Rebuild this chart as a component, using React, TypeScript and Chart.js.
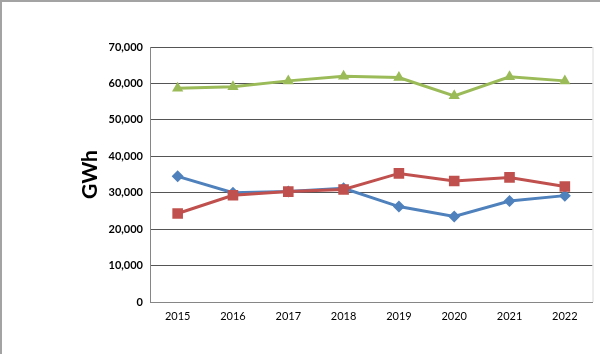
import React, { useEffect, useRef } from "react";
import { Chart, registerables } from "chart.js";

Chart.register(...registerables);

const years = ["2015", "2016", "2017", "2018", "2019", "2020", "2021", "2022"];
const blueSeries = [34500, 30000, 30300, 31200, 26200, 23500, 27700, 29200];
const redSeries = [24300, 29300, 30300, 30900, 35300, 33200, 34200, 31700];
const greenSeries = [58700, 59100, 60700, 62000, 61600, 56600, 61800, 60700];
const yTicks = [0, 10000, 20000, 30000, 40000, 50000, 60000, 70000];
const yTitle = "GWh";

const framePlugin = {
  id: "frame",
  afterDraw(chart: any) {
    const { ctx, chartArea } = chart;
    ctx.save();
    ctx.fillStyle = "#a3a3a3";
    ctx.fillRect(0, 0, 2, chart.height);
    ctx.fillRect(0, 0, chart.width, 2);
    ctx.strokeStyle = "#dcdcdc";
    ctx.lineWidth = 1;
    ctx.beginPath();
    ctx.moveTo(chartArea.right + 0.5, chartArea.top);
    ctx.lineTo(chartArea.right + 0.5, chartArea.bottom);
    ctx.stroke();
    ctx.restore();
  },
};

export default function App() {
  const ref = useRef<HTMLCanvasElement | null>(null);
  useEffect(() => {
    document.body.style.margin = "0";
    const canvas = ref.current!;
    const chart = new Chart(canvas, {
      type: "line",
      data: {
        labels: years,
        datasets: [
          {
            label: "Series 3",
            data: greenSeries,
            borderColor: "#9BBB59",
            backgroundColor: "#9BBB59",
            borderWidth: 3,
            pointStyle: "triangle",
            pointRadius: 6.5,
            pointBorderWidth: 0,
            tension: 0,
          },
          {
            label: "Series 2",
            data: redSeries,
            borderColor: "#C0504D",
            backgroundColor: "#C0504D",
            borderWidth: 3,
            pointStyle: "rect",
            pointRadius: 7.5,
            pointBorderWidth: 0,
            tension: 0,
          },
          {
            label: "Series 1",
            data: blueSeries,
            borderColor: "#4F81BD",
            backgroundColor: "#4F81BD",
            borderWidth: 3,
            pointStyle: "rectRot",
            pointRadius: 6,
            pointBorderWidth: 0,
            tension: 0,
          },
        ],
      },
      options: {
        animation: false,
        responsive: false,
        devicePixelRatio: 1,
        layout: { padding: { left: 0, right: 7, top: 47, bottom: 0 } },
        plugins: {
          legend: { display: false },
          tooltip: { enabled: false },
        },
        scales: {
          x: {
            offset: true,
            grid: { display: false, drawTicks: false },
            border: { display: true, color: "#868686", width: 1 },
            ticks: {
              color: "#000",
              padding: 8,
              font: { family: "Lato, 'Open Sans', sans-serif", size: 11 },
            },
            afterFit: (s: any) => {
              s.height = 52;
            },
          },
          y: {
            min: 0,
            max: 70000,
            afterBuildTicks: (s: any) => {
              s.ticks = yTicks.map((v) => ({ value: v }));
            },
            grid: { color: "#555555", lineWidth: 1, drawTicks: false },
            border: { display: true, color: "#868686", width: 1 },
            ticks: {
              color: "#000",
              padding: 7,
              font: { family: "Lato, 'Open Sans', sans-serif", size: 11, weight: "bold" },
              callback: (v: any) => Number(v).toLocaleString("en-US"),
            },
            title: {
              display: true,
              text: yTitle,
              color: "#000",
              padding: { top: 78, bottom: 0 },
              font: { family: "Lato, 'Open Sans', sans-serif", size: 21, weight: "bold", lineHeight: 1.2 },
            },
            afterFit: (s: any) => {
              s.width = 150;
            },
          },
        },
      },
      plugins: [framePlugin],
    });
    return () => chart.destroy();
  }, []);
  return (
    <div style={{ position: "absolute", left: 0, top: 0, width: 600, height: 354, background: "#fff" }}>
      <canvas ref={ref} width={600} height={354} style={{ display: "block", width: 600, height: 354 }} />
    </div>
  );
}
